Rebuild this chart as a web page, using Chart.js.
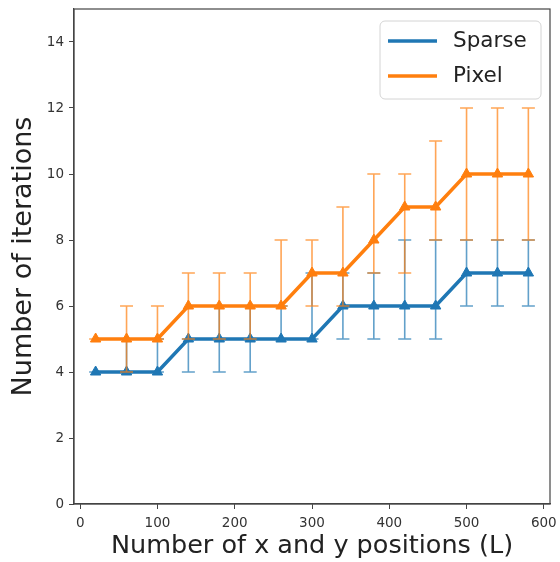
<!DOCTYPE html>
<html lang="en">
<head>
    <meta charset="UTF-8">
    <title>Number of iterations</title>
    <script src="https://cdn.jsdelivr.net/npm/chart.js"></script>
    <style>
        html, body {
            margin: 0;
            padding: 0;
            background: #ffffff;
        }
        .chart-box {
            width: 560px;
            height: 562px;
        }
    </style>
</head>
<body>
    <div class="chart-box">
        <canvas id="iterChart"></canvas>
    </div>

    <script>
        // positions L
        const positions = [20, 60, 100, 140, 180, 220, 260, 300, 340, 380, 420, 460, 500, 540, 580];

        // Sparse: value, lower and upper end of the bar
        const sparseIter = [4, 4, 4, 5, 5, 5, 5, 5, 6, 6, 6, 6, 7, 7, 7];
        const sparseLow  = [4, 4, 4, 4, 4, 4, 5, 5, 5, 5, 5, 5, 6, 6, 6];
        const sparseHigh = [4, 5, 5, 5, 6, 6, 6, 7, 7, 7, 8, 8, 8, 8, 8];

        // Pixel
        const pixelIter = [5, 5, 5, 6, 6, 6, 6, 7, 7, 8, 9, 9, 10, 10, 10];
        const pixelLow  = [5, 4, 5, 5, 5, 5, 6, 6, 6, 7, 7, 8, 8, 8, 8];
        const pixelHigh = [5, 6, 6, 7, 7, 7, 8, 8, 9, 10, 10, 11, 12, 12, 12];

        const xTicks = [0, 100, 200, 300, 400, 500, 600];
        const yTicks = [0, 2, 4, 6, 8, 10, 12, 14];

        const BLUE = '#1f77b4';
        const ORANGE = '#ff7f0e';

        function toPoints(ys) {
            return positions.map((x, i) => ({ x: x, y: ys[i] }));
        }

        // error bars drawn under each dataset's own line
        const errorBars = {
            id: 'errorBars',
            beforeDatasetDraw(chart, args) {
                const ds = chart.data.datasets[args.index];
                if (!ds.low) return;
                const xs = chart.scales.x, ys = chart.scales.y;
                const ctx = chart.ctx;
                ctx.save();
                ctx.globalAlpha = 0.7;
                ctx.strokeStyle = ds.borderColor;
                ctx.lineWidth = 1.6;
                ds.data.forEach((p, i) => {
                    const px = xs.getPixelForValue(p.x);
                    const y1 = ys.getPixelForValue(ds.low[i]);
                    const y2 = ys.getPixelForValue(ds.high[i]);
                    ctx.beginPath();
                    ctx.moveTo(px, y1); ctx.lineTo(px, y2);
                    ctx.moveTo(px - 6.5, y1); ctx.lineTo(px + 6.5, y1);
                    ctx.moveTo(px - 6.5, y2); ctx.lineTo(px + 6.5, y2);
                    ctx.stroke();
                });
                ctx.restore();
            }
        };

        // frame on all four sides + legend box in the upper right
        const frameAndLegend = {
            id: 'frameAndLegend',
            afterDraw(chart) {
                const ctx = chart.ctx;
                const a = chart.chartArea;
                ctx.save();
                ctx.strokeStyle = '#444';
                ctx.lineWidth = 1.2;
                ctx.strokeRect(a.left, a.top, a.right - a.left, a.bottom - a.top);

                const bx = a.right - 170, by = a.top + 12, bw = 161, bh = 78;
                ctx.beginPath();
                ctx.roundRect(bx, by, bw, bh, 5);
                ctx.fillStyle = 'rgba(255,255,255,0.85)';
                ctx.fill();
                ctx.strokeStyle = '#d4d4d4';
                ctx.lineWidth = 1;
                ctx.stroke();

                ctx.font = '21.5px "DejaVu Sans"';
                ctx.textBaseline = 'middle';
                chart.data.datasets.forEach((ds, i) => {
                    const ly = by + 20 + i * 35;
                    ctx.strokeStyle = ds.borderColor;
                    ctx.lineWidth = 3.5;
                    ctx.beginPath();
                    ctx.moveTo(bx + 8, ly);
                    ctx.lineTo(bx + 57, ly);
                    ctx.stroke();
                    ctx.fillStyle = '#222';
                    ctx.fillText(ds.label, bx + 73, ly);
                });
                ctx.restore();
            }
        };

        const data = {
            datasets: [
                {
                    label: 'Sparse',
                    data: toPoints(sparseIter),
                    low: sparseLow,
                    high: sparseHigh,
                    borderColor: BLUE,
                    backgroundColor: BLUE,
                    borderWidth: 3.5,
                    pointStyle: 'triangle',
                    pointRadius: 6,
                    pointBorderWidth: 1,
                    showLine: true,
                    order: 2
                },
                {
                    label: 'Pixel',
                    data: toPoints(pixelIter),
                    low: pixelLow,
                    high: pixelHigh,
                    borderColor: ORANGE,
                    backgroundColor: ORANGE,
                    borderWidth: 3.5,
                    pointStyle: 'triangle',
                    pointRadius: 6,
                    pointBorderWidth: 1,
                    showLine: true,
                    order: 1
                }
            ]
        };

        const config = {
            type: 'scatter',
            data: data,
            options: {
                responsive: false,
                animation: false,
                layout: { padding: { top: 9, right: 10, bottom: 0, left: 0 } },
                plugins: {
                    legend: { display: false },
                    tooltip: { enabled: false }
                },
                scales: {
                    x: {
                        type: 'linear',
                        min: -8,
                        max: 608,
                        afterBuildTicks: (s) => { s.ticks = xTicks.map(v => ({ value: v })); },
                        afterFit: (s) => { s.height = 58; s.paddingLeft = 0; s.paddingRight = 0; },
                        grid: { display: true, drawOnChartArea: false, drawTicks: true, tickLength: 5, color: '#444' },
                        border: { display: true, color: '#444', width: 1.2 },
                        ticks: { color: '#333', padding: 6, font: { family: 'DejaVu Sans', size: 13.5 } },
                        title: {
                            display: true,
                            text: 'Number of x and y positions (L)',
                            color: '#222',
                            font: { family: 'DejaVu Sans', size: 25.5 },
                            padding: { top: 0, bottom: 0 }
                        }
                    },
                    y: {
                        min: 0,
                        max: 15,
                        afterBuildTicks: (s) => { s.ticks = yTicks.map(v => ({ value: v })); },
                        afterFit: (s) => { s.width = 74; s.paddingTop = 0; s.paddingBottom = 0; },
                        grid: { display: true, drawOnChartArea: false, drawTicks: true, tickLength: 5, color: '#444' },
                        border: { display: true, color: '#444', width: 1.2 },
                        ticks: { color: '#333', padding: 5, font: { family: 'DejaVu Sans', size: 13.5 } },
                        title: {
                            display: true,
                            text: 'Number of iterations',
                            color: '#222',
                            font: { family: 'DejaVu Sans', size: 27 },
                            padding: { top: 8, bottom: 0 }
                        }
                    }
                }
            },
            plugins: [errorBars, frameAndLegend]
        };

        const canvas = document.getElementById('iterChart');
        canvas.width = 560;
        canvas.height = 562;
        const iterChart = new Chart(canvas, config);
    </script>
</body>
</html>
